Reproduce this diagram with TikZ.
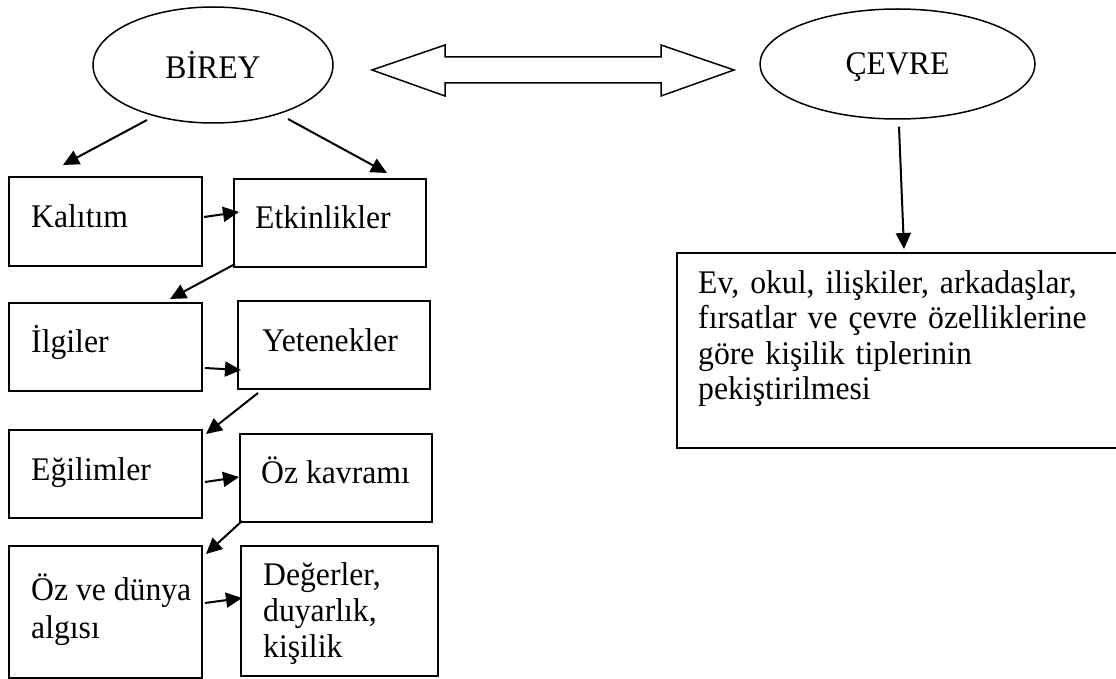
\documentclass[tikz,border=0pt]{standalone}
\usepackage{fontspec}
\setmainfont[FakeStretch=0.96]{Liberation Serif}
\usetikzlibrary{shapes.geometric,arrows.meta}
\begin{document}
\begin{tikzpicture}[x=1pt,y=-1pt,
  box/.style={draw,line width=2pt,rectangle,inner sep=0pt},
  oval/.style={draw,line width=1.5pt,ellipse,inner sep=0pt,text depth=0pt,font=\fontsize{33}{36}\selectfont},
  lbl/.style={inner sep=0pt,anchor=base west,align=left,font=\fontsize{33}{36}\selectfont},
  arr/.style={line width=2pt,-{Triangle[length=16pt,width=15pt]}},
  hollow/.style={draw,line width=1.5pt,line join=miter}]
\useasboundingbox (0,0) rectangle (1116,679);
\fill[white] (0,0) rectangle (1116,679);

% ellipses
\node[oval,minimum width=240pt,minimum height=116pt] (birey) at (213,65) {BİREY};
\node[oval,minimum width=275pt,minimum height=110pt] (cevre) at (897.5,64) {ÇEVRE};

% double hollow arrow between BİREY and ÇEVRE
\draw[hollow] (372,70) -- (445,45) -- (445,57) -- (661,57) -- (661,45) -- (734,70)
  -- (661,96) -- (661,83) -- (445,83) -- (445,96) -- cycle;

% boxes
\node[box,minimum width=193pt,minimum height=89pt] (kalitim) at (105.5,221.5) {};
\node[box,minimum width=192pt,minimum height=88pt] (etk) at (330,223) {};
\node[box,minimum width=193pt,minimum height=88pt] (ilgi) at (105.5,347) {};
\node[box,minimum width=192pt,minimum height=88pt] (yet) at (334,345) {};
\node[box,minimum width=193pt,minimum height=88pt] (egil) at (105.5,474) {};
\node[box,minimum width=192pt,minimum height=88pt] (ozk) at (336,478) {};
\node[box,minimum width=193pt,minimum height=132pt] (ozd) at (105.5,612) {};
\node[box,minimum width=197pt,minimum height=130pt] (deg) at (339.5,611) {};
\node[box,minimum width=443pt,minimum height=195pt] (rbox) at (898.5,350.5) {};

% texts
\node[lbl] (kalitim-t) at (31,228) {Kalıtım};
\node[lbl] (etk-t) at (255,229) {Etkinlikler};
\node[lbl] (ilgi-t) at (31,352) {İlgiler};
\node[lbl] (yet-t) at (262,351) {Yetenekler};
\node[lbl] (egil-t) at (31,480) {Eğilimler};
\node[lbl] (ozk-t) at (261,483) {Öz kavramı};
\node[lbl,font=\fontsize{33}{38}\selectfont] (ozd-t) at (31,638) {Öz ve dünya\\algısı};
\node[lbl,font=\fontsize{33}{36}\selectfont] (deg-t) at (263,657) {Değerler,\\duyarlık,\\kişilik};
\node[lbl,text width=403pt,font=\fontsize{33}{35.5}\selectfont] (rbox-t) at (698,293)
  {\makebox[\linewidth][s]{Ev, okul, ilişkiler, arkadaşlar,}\\
   \makebox[\linewidth][s]{fırsatlar ve çevre özelliklerine}\\
   göre kişilik tiplerinin\\
   pekiştirilmesi};

% connectors
\draw[arr] ([shift={(-66,55)}]birey.center) -- ([shift={(-42.5,-11)}]kalitim.north);
\draw[arr] ([shift={(75,54)}]birey.center) -- ([shift={(57,-5)}]etk.north);
\draw[arr] ([shift={(1,-4.5)}]kalitim.east) -- ([shift={(6,-11)}]etk.west);
\draw[arr] ([shift={(2,-4)}]etk.south west) -- ([shift={(64.5,-3)}]ilgi.north);
\draw[arr] ([shift={(2,21)}]ilgi.east) -- ([shift={(4,25)}]yet.west);
\draw[arr] ([shift={(21,3)}]yet.south west) -- ([shift={(3,5)}]egil.north east);
\draw[arr] ([shift={(2,8)}]egil.east) -- ([shift={(0,-1)}]ozk.west);
\draw[arr] ([shift={(3,-2)}]ozk.south west) -- ([shift={(3,9)}]ozd.north east);
\draw[arr] ([shift={(2,-9)}]ozd.east) -- ([shift={(2,-13)}]deg.west);
\draw[arr] ([shift={(1.5,7)}]cevre.south) -- ([shift={(5.5,-3)}]rbox.north);
\end{tikzpicture}
\end{document}
